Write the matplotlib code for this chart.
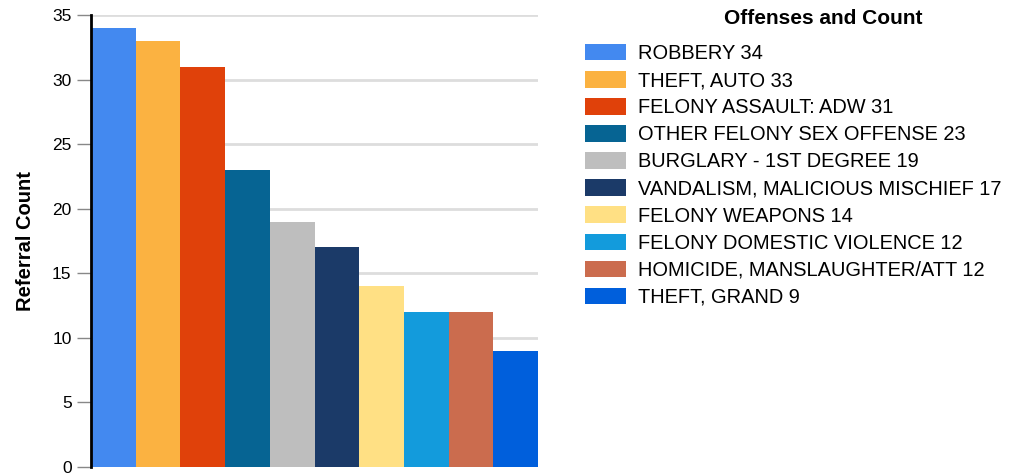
import matplotlib.pyplot as plt
from matplotlib.patches import Patch

plt.rcParams['font.family'] = ['Liberation Sans', 'DejaVu Sans']

# Data
offenses = [
    'ROBBERY',
    'THEFT, AUTO',
    'FELONY ASSAULT: ADW',
    'OTHER FELONY SEX OFFENSE',
    'BURGLARY - 1ST DEGREE',
    'VANDALISM, MALICIOUS MISCHIEF',
    'FELONY WEAPONS',
    'FELONY DOMESTIC VIOLENCE',
    'HOMICIDE, MANSLAUGHTER/ATT',
    'THEFT, GRAND',
]
counts = [34, 33, 31, 23, 19, 17, 14, 12, 12, 9]
colors = [
    '#4389F0', '#FBB241', '#E0410A', '#066493', '#BEBEBE',
    '#1B3A68', '#FFE084', '#139BDC', '#CB6C4E', '#005FDC',
]

fig = plt.figure(figsize=(10.25, 4.74), dpi=100)
ax = fig.add_axes([0.0888, 0.0148, 0.4361, 0.9536])

x = range(len(counts))
ax.bar(x, counts, width=1.0, color=colors, zorder=2)

ax.set_xlim(-0.5, len(counts) - 0.5)
ax.set_ylim(0, 35)
ax.set_yticks(range(0, 36, 5))
ax.set_xticks([])
ax.grid(axis='y', color='#DDDDDD', linewidth=2, zorder=0)
ax.set_axisbelow(True)

for s in ['top', 'right', 'bottom']:
    ax.spines[s].set_visible(False)
ax.spines['left'].set_linewidth(2)
ax.spines['left'].set_color('black')
ax.spines['left'].set_zorder(3)
ax.tick_params(axis='y', length=10, width=1, color='#888888',
               labelsize=12.5, pad=4)

ax.set_ylabel('Referral Count', fontsize=14.5, fontweight='bold', labelpad=12)

# Legend
fig.text(0.803, 0.962, 'Offenses and Count', ha='center', va='center',
         fontsize=15, fontweight='bold')

handles = [Patch(facecolor=c, edgecolor='none') for c in colors]
labels = [f'{o} {n}' for o, n in zip(offenses, counts)]
leg = fig.legend(
    handles, labels,
    loc='upper left',
    bbox_to_anchor=(0.557, 0.937),
    frameon=False,
    fontsize=14.4,
    handlelength=2.05,
    handleheight=0.9,
    handletextpad=0.58,
    labelspacing=0.395,
    borderpad=0.2,
)

plt.savefig('out.png', dpi=100)
